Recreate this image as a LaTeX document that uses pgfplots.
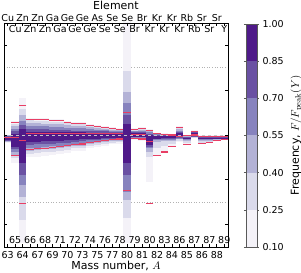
\documentclass[border=0pt]{standalone}
\usepackage[no-math]{fontspec}
\setmainfont{DejaVu Sans}
\usepackage{pgfplots}
\usepackage{pgfplotstable}
\pgfplotsset{compat=1.18}

\definecolor{c1}{RGB}{244,242,248}
\definecolor{c2}{RGB}{218,218,235}
\definecolor{c3}{RGB}{179,178,214}
\definecolor{c4}{RGB}{135,131,190}
\definecolor{c5}{RGB}{106,81,163}
\definecolor{c6}{RGB}{79,26,137}
\definecolor{redline}{RGB}{232,62,100}

% nested frequency bands per isotope column: [lo_k, hi_k] for level k (k=1 lightest ... 6 darkest)
\pgfplotstableread{
x lo1 hi1 lo2 hi2 lo3 hi3 lo4 hi4 lo5 hi5 lo6 hi6
0 -0.17 0.01 -0.16 0.00 -0.15 -0.01 -0.14 -0.02 -0.13 -0.03 -0.12 -0.05
1 -0.63 0.32 -0.52 0.25 -0.45 0.19 -0.38 0.13 -0.32 0.08 -0.26 0.03
2 -2.40 0.83 -1.90 0.57 -1.38 0.44 -1.12 0.32 -0.89 0.22 -0.63 0.14
3 -0.49 0.39 -0.42 0.33 -0.35 0.27 -0.29 0.20 -0.22 0.13 -0.15 0.07
4 -0.48 0.38 -0.41 0.32 -0.34 0.26 -0.28 0.19 -0.21 0.13 -0.15 0.07
5 -0.46 0.37 -0.39 0.31 -0.32 0.25 -0.26 0.19 -0.20 0.13 -0.14 0.07
6 -0.44 0.36 -0.37 0.30 -0.31 0.24 -0.25 0.18 -0.19 0.12 -0.14 0.07
7 -0.42 0.36 -0.35 0.30 -0.29 0.24 -0.24 0.18 -0.18 0.12 -0.13 0.07
8 -0.40 0.32 -0.33 0.27 -0.27 0.22 -0.22 0.16 -0.17 0.11 -0.12 0.06
9 -0.36 0.30 -0.30 0.25 -0.25 0.20 -0.20 0.15 -0.15 0.10 -0.11 0.06
10 -0.35 0.30 -0.29 0.25 -0.24 0.20 -0.19 0.15 -0.14 0.10 -0.10 0.06
11 -0.30 0.25 -0.25 0.21 -0.20 0.17 -0.16 0.13 -0.12 0.09 -0.09 0.05
12 -0.27 0.23 -0.22 0.19 -0.18 0.15 -0.14 0.12 -0.11 0.08 -0.08 0.05
13 -0.24 0.21 -0.20 0.17 -0.16 0.14 -0.13 0.11 -0.10 0.08 -0.07 0.05
14 -0.21 0.18 -0.17 0.15 -0.14 0.12 -0.11 0.09 -0.09 0.07 -0.06 0.04
15 -0.19 0.16 -0.16 0.13 -0.13 0.11 -0.10 0.08 -0.08 0.06 -0.06 0.04
16 -2.42 2.60 -1.85 1.42 -1.45 0.95 -1.27 0.72 -0.89 0.45 -0.62 0.24
17 -0.12 0.15 -0.10 0.12 -0.08 0.10 -0.06 0.08 -0.05 0.06 -0.04 0.04
18 -0.13 0.18 -0.11 0.15 -0.09 0.12 -0.07 0.09 -0.05 0.07 -0.04 0.05
19 -1.04 0.14 -0.50 0.12 -0.37 0.09 -0.30 0.06 -0.26 0.03 -0.22 0.00
20 -0.47 0.05 -0.30 0.04 -0.15 0.03 -0.12 0.02 -0.10 0.00 -0.08 -0.02
21 -0.40 0.04 -0.25 0.03 -0.14 0.02 -0.11 0.01 -0.09 0.00 -0.07 -0.02
22 -0.27 0.02 -0.20 0.01 -0.14 0.00 -0.11 -0.01 -0.09 -0.02 -0.07 -0.03
23 -0.16 0.20 -0.13 0.17 -0.10 0.14 -0.08 0.10 -0.06 0.07 -0.04 0.04
24 -0.23 -0.01 -0.18 -0.02 -0.14 -0.03 -0.12 -0.04 -0.10 -0.05 -0.09 -0.06
25 -0.07 0.11 -0.06 0.09 -0.05 0.08 -0.04 0.07 -0.035 0.06 -0.03 0.05
26 -0.20 -0.01 -0.17 -0.02 -0.14 -0.03 -0.12 -0.04 -0.10 -0.05 -0.09 -0.06
27 -0.18 -0.01 -0.15 -0.02 -0.13 -0.03 -0.11 -0.04 -0.10 -0.05 -0.08 -0.06
28 -0.14 -0.01 -0.12 -0.02 -0.11 -0.03 -0.10 -0.04 -0.09 -0.05 -0.08 -0.06
29 -0.12 -0.01 -0.11 -0.02 -0.10 -0.03 -0.09 -0.04 -0.08 -0.05 -0.07 -0.06
}\bands

% red marker lines
\pgfplotstableread{
x y
0 -0.05
1 0.28
1 -0.05
1 -0.45
2 0.65
2 -0.13
2 -1.52
3 0.35
3 0.03
3 -0.32
4 0.34
4 0.03
4 -0.31
5 0.34
5 0.03
5 -0.30
6 0.32
6 0.03
6 -0.28
7 0.32
7 0.03
7 -0.26
8 0.28
8 0.03
8 -0.24
9 0.26
9 0.03
9 -0.21
10 0.26
10 0.03
10 -0.20
11 0.21
11 0.03
11 -0.16
12 0.19
12 0.03
12 -0.14
13 0.17
13 0.03
13 -0.12
14 0.14
14 0.03
14 -0.10
15 0.12
15 0.03
15 -0.09
16 0.50
16 -1.23
17 0.12
17 0.02
17 -0.08
18 0.15
18 0.02
18 -0.09
19 0.10
19 -0.14
19 -1.52
20 0.03
20 -0.46
21 0.02
21 -0.38
22 0.00
22 -0.25
23 0.17
23 -0.03
24 -0.02
24 -0.22
25 0.085
25 0.00
26 -0.03
26 -0.19
27 -0.03
27 -0.17
28 -0.03
28 -0.12
29 -0.03
29 -0.10
}\reds

\begin{document}
\begin{tikzpicture}[font=\fontsize{9.5}{11}\selectfont]
% main axis
\begin{axis}[
  at={(4pt,26pt)}, anchor=south west,
  scale only axis, width=224pt, height=224pt,
  axis on top,
  xmin=-0.5, xmax=29.5, ymin=-2.5, ymax=2.5,
  xtick={0,2,...,28},
  xticklabels={63,64,67,69,70,73,75,77,80,81,82,84,85,86,88},
  extra x ticks={1,3,...,29},
  extra x tick labels={65,66,68,71,72,74,76,78,79,80,83,86,87,87,89},
  xticklabel style={font=\fontsize{9.5}{11}\selectfont, anchor=base, yshift=-11.3pt},
  extra x tick style={xticklabel style={yshift=14.3pt}},
  ytick={-2,-1,0,1,2}, yticklabels={},
  tick align=inside, major tick length=3pt,
  tick style={black, line width=0.6pt},
  axis line style={line width=0.8pt},
  xlabel={Mass number, $A$},
  xlabel style={font=\fontsize{11}{13}\selectfont, at={(axis description cs:0.5,0)}, anchor=base, yshift=-23pt},
]
\addplot[gray!60, dotted, line width=0.6pt] coordinates {(-0.5,1.5) (29.5,1.5)};
\addplot[gray!60, dotted, line width=0.6pt] coordinates {(-0.5,-1.5) (29.5,-1.5)};
\pgfplotsinvokeforeach{1,...,6}{
  \addplot[draw=none, mark=none,
    error bars/.cd, y dir=both, y explicit, error mark=none,
    error bar style={draw=c#1, line width=7.467pt, line cap=butt}]
    table[x=x, y expr={0.5*(\thisrow{lo#1}+\thisrow{hi#1})},
          y error expr={0.5*(\thisrow{hi#1}-\thisrow{lo#1})}] {\bands};
}
\addplot[gray!45, dashed, line width=0.6pt] coordinates {(-0.5,0) (29.5,0)};
\addplot[only marks, draw=redline, mark=-, mark size=3.73pt, mark options={line width=1.1pt, draw=redline}] table[x=x,y=y]{\reds};
\end{axis}
% top element labels
\begin{axis}[
  at={(4pt,26pt)}, anchor=south west,
  scale only axis, width=224pt, height=224pt,
  axis on top,
  xmin=-0.5, xmax=29.5, ymin=-2.5, ymax=2.5,
  axis line style={draw=none}, ytick=\empty,
  xticklabel pos=upper,
  xtick={0,2,...,28},
  xticklabels={Cu,Zn,Zn,Ga,Ge,Ge,As,Se,Se,Br,Kr,Kr,Rb,Sr,Sr},
  extra x ticks={1,3,...,29},
  extra x tick labels={Cu,Zn,Zn,Ga,Ge,Ge,Se,Se,Br,Kr,Kr,Kr,Rb,Sr,Y},
  xticklabel style={font=\fontsize{9.5}{11}\selectfont, anchor=base, yshift=1.5pt},
  extra x tick style={xticklabel style={yshift=-11.5pt}},
  major tick length=0pt,
  xlabel={Element},
  xlabel style={font=\fontsize{11}{13}\selectfont, at={(axis description cs:0.5,1)}, anchor=base, yshift=13pt},
]
\addplot[draw=none, forget plot] coordinates {(0,0) (29,0)};
\end{axis}
% colorbar
\begin{axis}[
  at={(246pt,26pt)}, anchor=south west,
  scale only axis, width=11pt, height=223pt,
  axis on top,
  xmin=0, xmax=1, ymin=0.1, ymax=1.0,
  xtick=\empty,
  ytick={0.1,0.25,0.4,0.55,0.7,0.85,1.0},
  yticklabels={0.10,0.25,0.40,0.55,0.70,0.85,1.00},
  yticklabel pos=right,
  tick align=outside, major tick length=2pt,
  tick style={gray!70!black, line width=0.6pt},
  axis line style={gray!70!black, line width=0.8pt},
  yticklabel style={font=\fontsize{9.5}{11}\selectfont},
  ylabel={Frequency, $F/F_{\mathrm{peak}}(Y)$},
  ylabel near ticks,
  ylabel style={font=\fontsize{11}{13}\selectfont},
]
\addplot[fill=c1, draw=none] coordinates {(0,0.10) (1,0.10) (1,0.25) (0,0.25)};
\addplot[fill=c2, draw=none] coordinates {(0,0.25) (1,0.25) (1,0.40) (0,0.40)};
\addplot[fill=c3, draw=none] coordinates {(0,0.40) (1,0.40) (1,0.55) (0,0.55)};
\addplot[fill=c4, draw=none] coordinates {(0,0.55) (1,0.55) (1,0.70) (0,0.70)};
\addplot[fill=c5, draw=none] coordinates {(0,0.70) (1,0.70) (1,0.85) (0,0.85)};
\addplot[fill=c6, draw=none] coordinates {(0,0.85) (1,0.85) (1,1.00) (0,1.00)};
\end{axis}
\pgfresetboundingbox
\useasboundingbox (0,0) rectangle (301pt,273pt);
\end{tikzpicture}
\end{document}
